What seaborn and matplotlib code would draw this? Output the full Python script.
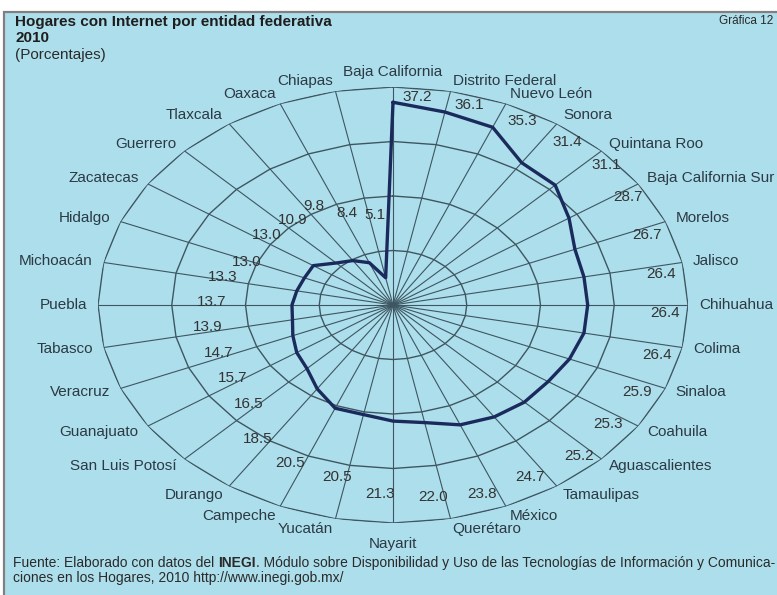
import numpy as np
import pandas as pd
import matplotlib
matplotlib.use("Agg")
import matplotlib.pyplot as plt
from matplotlib.patches import Rectangle
import seaborn as sns

# ---- data -----------------------------------------------------------------
states = ["Baja California", "Distrito Federal", "Nuevo León", "Sonora",
          "Quintana Roo", "Baja California Sur", "Morelos", "Jalisco",
          "Chihuahua", "Colima", "Sinaloa", "Coahuila", "Aguascalientes",
          "Tamaulipas", "México", "Querétaro", "Nayarit", "Yucatán",
          "Campeche", "Durango", "San Luis Potosí", "Guanajuato", "Veracruz",
          "Tabasco", "Puebla", "Michoacán", "Hidalgo", "Zacatecas",
          "Guerrero", "Tlaxcala", "Oaxaca", "Chiapas"]
internet_pct = [37.2, 36.1, 35.3, 31.4, 31.1, 28.7, 26.7, 26.4, 26.4, 26.4,
                25.9, 25.3, 25.2, 24.7, 23.8, 22.0, 21.3, 20.5, 20.5, 18.5,
                16.5, 15.7, 14.7, 13.9, 13.7, 13.3, 13.0, 13.0, 10.9, 9.8,
                8.4, 5.1]
ring_levels = [10, 20, 30, 40]

# value-label layout (angular shift in degrees, radial position)
label_shift_deg = [4.9, 4.6, 4.9, 4.5, 3.4, 2.0, 2.1, 2.3, 2.3, 3.1, 3.3, 3.0,
                   2.7, 3.2, 3.3, 2.4, 2.9, 2.2, 3.2, 3.0, 2.1, 2.0, 2.0, 2.0,
                   1.3, 1.2, -0.9, 3.2, 3.7, 3.2, 2.2, 2.8]
label_radius = [38.3, 38.1, 38.0, 38.1, 38.6, 37.5, 36.8, 36.8, 36.9, 37.0,
                36.7, 36.4, 37.5, 36.6, 36.7, 35.7, 34.7, 32.5, 32.2, 30.7,
                26.7, 25.5, 25.2, 25.4, 24.6, 23.6, 21.4, 21.5, 20.7, 21.1,
                18.0, 16.7]

# ---- style ----------------------------------------------------------------
BG = "#ADDEEB"
GRID = "#3E5661"
LINE = "#1B2A5C"
TXT = "#2B3A44"

sns.set_style("white")
plt.rcParams["font.family"] = ["Liberation Sans", "DejaVu Sans"]

W, H = 777, 595
fig = plt.figure(figsize=(W / 100, H / 100), dpi=100, facecolor="white")

# light-blue panel with grey frame
fig.patches.append(Rectangle((4 / W, -0.02), 1.05, 1 - 12 / H + 0.02,
                             transform=fig.transFigure, facecolor=BG,
                             edgecolor="#808080", linewidth=1.6, zorder=-5))

# radar area: centre (393, 305) px, radii 295 x 218 px
cx, cy, rx, ry = 393, 305, 295, 218
ax = fig.add_axes([(cx - rx) / W, (H - cy - ry) / H, 2 * rx / W, 2 * ry / H],
                  projection="polar")
ax.set_aspect("auto")
ax.set_theta_zero_location("N")
ax.set_theta_direction(-1)
ax.set_facecolor("none")
ax.grid(False)
ax.spines["polar"].set_visible(False)

n = len(states)
theta = np.arange(n) * 2 * np.pi / n
theta_closed = np.append(theta, 2 * np.pi)

# polygonal rings and spokes
for lvl in ring_levels:
    ax.plot(theta_closed, [lvl] * (n + 1), color=GRID, lw=1.0, zorder=1)
for t in theta:
    ax.plot([t, t], [0, ring_levels[-1]], color=GRID, lw=0.8, zorder=1)

# data polygon
df = pd.DataFrame({"theta": theta_closed,
                   "pct": internet_pct + internet_pct[:1]})
sns.lineplot(data=df, x="theta", y="pct", sort=False, estimator=None,
             color=LINE, linewidth=2.4, ax=ax, zorder=3)

ax.set_ylim(0, ring_levels[-1])
ax.set_xticks([])
ax.set_yticks([])
ax.set_xlabel("")
ax.set_ylabel("")

# value labels
for t, v, dshift, rad in zip(theta, internet_pct, label_shift_deg, label_radius):
    ax.text(t + np.deg2rad(dshift), rad, f"{v:.1f}", ha="center", va="center",
            fontsize=11, color="#333333", zorder=4)

# category labels outside the outer ring
px2pt = 0.72
for t, name in zip(theta, states):
    s, c = np.sin(t), np.cos(t)
    if abs(s) < 1e-6:
        ha = "center"
        if c > 0:
            va, off = "bottom", (0, 8 * px2pt)
        else:
            va, off = "top", (0, -14 * px2pt)
    else:
        ha = "left" if s > 0 else "right"
        va = "center"
        off = (11 * s * px2pt, 10 * c * px2pt)
    ax.annotate(name, xy=(t, ring_levels[-1]), xytext=off,
                textcoords="offset points", ha=ha, va=va, fontsize=11,
                color=TXT, annotation_clip=False)

# titles
fig.text(15 / W, 1 - 22 / H, "Hogares con Internet por entidad federativa",
         fontsize=11, fontweight="bold", color="#1E1E1E", va="center")
fig.text(15 / W, 1 - 38 / H, "2010", fontsize=11, fontweight="bold",
         color="#1E1E1E", va="center")
fig.text(15 / W, 1 - 55 / H, "(Porcentajes)", fontsize=11, color="#2A2A2A",
         va="center")
fig.text(773 / W, 1 - 21 / H, "Gráfica 12", fontsize=8.5, color="#2A2A2A",
         ha="right", va="center")

# source note
narrow = ["Liberation Sans Narrow", "Liberation Sans", "DejaVu Sans"]
fs = 10
t1 = fig.text(13 / W, 1 - 567 / H, "Fuente: Elaborado con datos del ",
              fontsize=fs, family=narrow, color="#2A2A2A", va="baseline")
t2 = fig.text(0, 0, "INEGI", fontsize=fs, family=narrow, fontweight="bold",
              color="#2A2A2A", va="baseline")
t3 = fig.text(0, 0, ". Módulo sobre Disponibilidad y Uso de las Tecnologías "
              "de Información y Comunica-", fontsize=fs, family=narrow,
              color="#2A2A2A", va="baseline")
fig.text(13 / W, 1 - 582 / H,
         "ciones en los Hogares, 2010 http://www.inegi.gob.mx/",
         fontsize=fs, family=narrow, color="#2A2A2A", va="baseline")

# chain the three pieces of the first note line
fig.canvas.draw()
r = fig.canvas.get_renderer()
bb1 = t1.get_window_extent(r)
t2.set_position((bb1.x1 / fig.bbox.width, 1 - 567 / H))
fig.canvas.draw()
bb2 = t2.get_window_extent(r)
t3.set_position((bb2.x1 / fig.bbox.width, 1 - 567 / H))

fig.savefig("out.png", dpi=100, facecolor="white")
